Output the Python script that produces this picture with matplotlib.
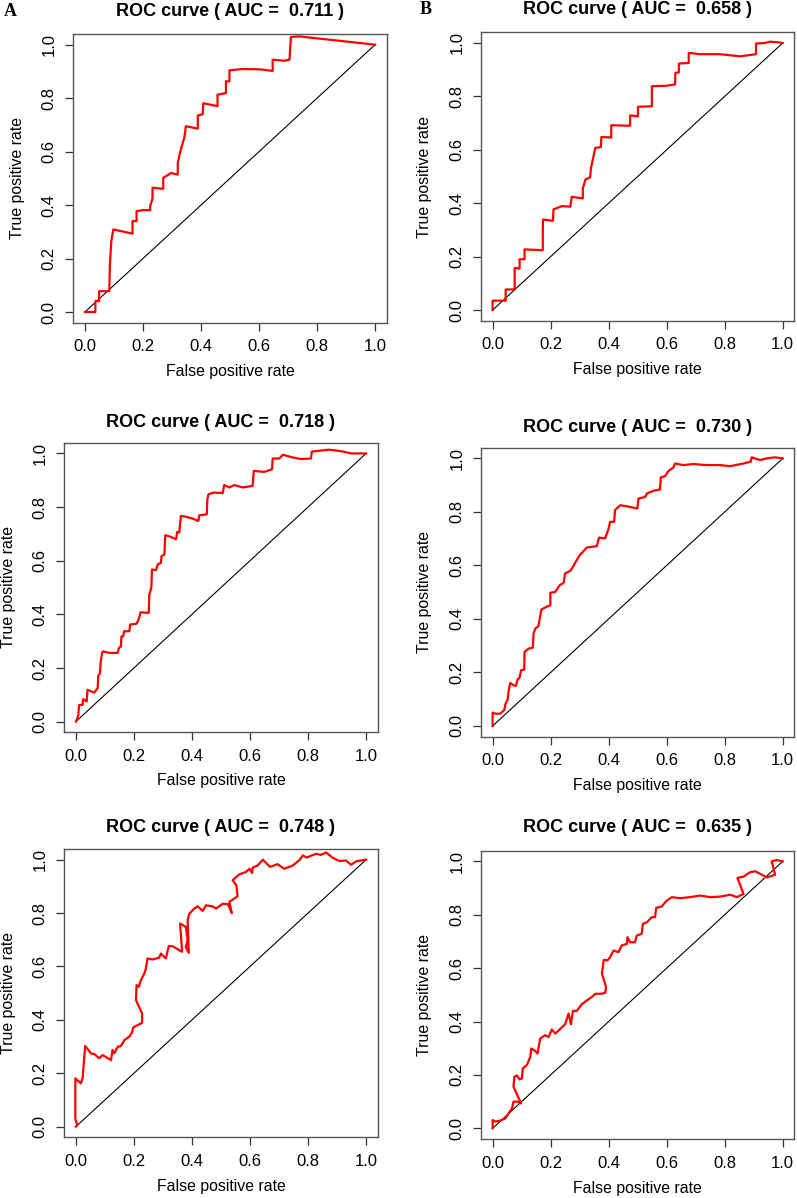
import numpy as np
import matplotlib
matplotlib.use("Agg")
import matplotlib.pyplot as plt

plt.rcParams['font.family'] = ['Liberation Sans', 'DejaVu Sans']

# ---------------- data ----------------
auc_values = ["0.711", "0.658", "0.718", "0.730", "0.748", "0.635"]
panel_letters = ["A", "B"]
tick_values = [0.0, 0.2, 0.4, 0.6, 0.8, 1.0]
tick_labels = ["0.0", "0.2", "0.4", "0.6", "0.8", "1.0"]

roc_a = [(0.0, 0.0), (0.036, 0.0), (0.036, 0.041), (0.049, 0.041), (0.049, 0.078),
         (0.084, 0.078), (0.086, 0.174), (0.091, 0.265), (0.098, 0.309), (0.164, 0.293),
         (0.164, 0.340), (0.178, 0.340), (0.178, 0.377), (0.199, 0.381), (0.225, 0.381),
         (0.225, 0.396), (0.233, 0.425), (0.233, 0.465), (0.270, 0.461), (0.270, 0.502),
         (0.297, 0.520), (0.320, 0.514), (0.320, 0.558), (0.329, 0.601), (0.343, 0.655),
         (0.348, 0.695), (0.389, 0.686), (0.389, 0.735), (0.406, 0.740), (0.408, 0.781),
         (0.457, 0.770), (0.457, 0.813), (0.486, 0.819), (0.486, 0.863), (0.498, 0.863),
         (0.498, 0.904), (0.544, 0.909), (0.601, 0.908), (0.647, 0.902), (0.647, 0.944),
         (0.687, 0.940), (0.705, 0.944), (0.710, 1.029), (0.739, 1.031), (1.0, 1.0)]

roc_b = [(0.0, 0.0), (0.0, 0.035), (0.045, 0.035), (0.045, 0.077), (0.076, 0.077),
         (0.076, 0.158), (0.093, 0.155), (0.093, 0.190), (0.110, 0.190), (0.110, 0.227),
         (0.173, 0.224), (0.173, 0.299), (0.174, 0.339), (0.208, 0.334), (0.210, 0.377),
         (0.239, 0.389), (0.268, 0.387), (0.273, 0.424), (0.311, 0.418), (0.311, 0.455),
         (0.320, 0.489), (0.336, 0.497), (0.339, 0.530), (0.346, 0.567), (0.354, 0.607),
         (0.373, 0.610), (0.375, 0.648), (0.409, 0.646), (0.409, 0.692), (0.474, 0.690),
         (0.474, 0.729), (0.501, 0.725), (0.501, 0.761), (0.549, 0.763), (0.549, 0.838),
         (0.600, 0.840), (0.629, 0.845), (0.630, 0.888), (0.642, 0.890), (0.642, 0.923),
         (0.676, 0.925), (0.676, 0.963), (0.715, 0.958), (0.784, 0.958), (0.853, 0.950),
         (0.908, 0.958), (0.908, 0.998), (0.939, 1.0), (0.956, 1.005), (0.979, 1.003),
         (1.0, 1.0)]

roc_c = [(0.0, 0.0), (0.008, 0.021), (0.011, 0.062), (0.023, 0.062), (0.025, 0.084),
         (0.037, 0.075), (0.040, 0.118), (0.063, 0.108), (0.075, 0.125), (0.077, 0.171),
         (0.083, 0.180), (0.085, 0.218), (0.090, 0.256), (0.094, 0.262), (0.115, 0.256),
         (0.144, 0.256), (0.148, 0.274), (0.155, 0.280), (0.157, 0.318), (0.163, 0.318),
         (0.166, 0.337), (0.184, 0.337), (0.187, 0.362), (0.209, 0.365), (0.216, 0.380),
         (0.223, 0.408), (0.251, 0.405), (0.253, 0.474), (0.260, 0.499), (0.262, 0.567),
         (0.276, 0.565), (0.282, 0.586), (0.293, 0.592), (0.295, 0.617), (0.305, 0.623),
         (0.308, 0.695), (0.324, 0.690), (0.345, 0.680), (0.349, 0.707), (0.356, 0.705),
         (0.362, 0.767), (0.379, 0.764), (0.402, 0.757), (0.422, 0.748), (0.425, 0.769),
         (0.451, 0.773), (0.453, 0.829), (0.457, 0.848), (0.477, 0.854), (0.506, 0.852),
         (0.511, 0.882), (0.529, 0.873), (0.546, 0.882), (0.575, 0.873), (0.609, 0.879),
         (0.613, 0.935), (0.649, 0.931), (0.676, 0.941), (0.678, 0.981), (0.701, 0.981),
         (0.713, 0.995), (0.747, 0.985), (0.776, 0.979), (0.810, 0.981), (0.813, 1.007),
         (0.839, 1.010), (0.874, 1.014), (0.920, 1.007), (0.948, 1.0), (1.0, 1.0)]

roc_d = [(0.0, 0.0), (0.0, 0.050), (0.009, 0.046), (0.026, 0.046), (0.040, 0.059),
         (0.045, 0.084), (0.052, 0.099), (0.055, 0.130), (0.061, 0.161), (0.072, 0.152),
         (0.080, 0.150), (0.086, 0.173), (0.093, 0.181), (0.098, 0.208), (0.109, 0.211),
         (0.110, 0.277), (0.124, 0.289), (0.139, 0.293), (0.141, 0.345), (0.147, 0.364),
         (0.158, 0.373), (0.168, 0.435), (0.185, 0.445), (0.199, 0.451), (0.199, 0.498),
         (0.216, 0.501), (0.231, 0.526), (0.245, 0.535), (0.250, 0.570), (0.268, 0.580),
         (0.277, 0.595), (0.290, 0.620), (0.300, 0.638), (0.325, 0.667), (0.359, 0.672),
         (0.367, 0.704), (0.388, 0.701), (0.400, 0.738), (0.405, 0.763), (0.419, 0.763),
         (0.422, 0.807), (0.440, 0.825), (0.463, 0.821), (0.480, 0.817), (0.499, 0.813),
         (0.503, 0.850), (0.526, 0.856), (0.532, 0.869), (0.555, 0.879), (0.577, 0.884),
         (0.580, 0.929), (0.595, 0.934), (0.606, 0.953), (0.623, 0.966), (0.629, 0.981),
         (0.658, 0.975), (0.692, 0.979), (0.738, 0.975), (0.784, 0.975), (0.819, 0.971),
         (0.865, 0.981), (0.890, 0.988), (0.893, 1.004), (0.922, 0.994), (0.945, 1.0),
         (0.973, 1.004), (1.0, 1.0)]

roc_e = [(0.0, 0.0), (0.005, 0.005), (-0.002, 0.030), (-0.002, 0.181), (0.017, 0.162),
         (0.023, 0.181), (0.032, 0.302), (0.052, 0.274), (0.063, 0.272), (0.080, 0.256),
         (0.092, 0.268), (0.121, 0.249), (0.126, 0.287), (0.132, 0.275), (0.144, 0.299),
         (0.155, 0.302), (0.167, 0.324), (0.184, 0.337), (0.193, 0.352), (0.198, 0.372),
         (0.213, 0.380), (0.228, 0.389), (0.228, 0.424), (0.207, 0.474), (0.209, 0.530),
         (0.217, 0.524), (0.224, 0.549), (0.236, 0.574), (0.241, 0.592), (0.247, 0.630),
         (0.264, 0.626), (0.287, 0.633), (0.293, 0.648), (0.310, 0.630), (0.320, 0.676),
         (0.333, 0.676), (0.356, 0.661), (0.366, 0.655), (0.359, 0.761), (0.379, 0.748),
         (0.385, 0.698), (0.379, 0.673), (0.389, 0.651), (0.385, 0.773), (0.391, 0.798),
         (0.408, 0.817), (0.420, 0.825), (0.437, 0.808), (0.448, 0.829), (0.471, 0.825),
         (0.483, 0.817), (0.506, 0.835), (0.524, 0.833), (0.537, 0.800), (0.529, 0.842),
         (0.557, 0.863), (0.553, 0.904), (0.540, 0.923), (0.563, 0.945), (0.586, 0.954),
         (0.598, 0.966), (0.607, 0.950), (0.609, 0.970), (0.626, 0.978), (0.644, 1.0),
         (0.669, 0.973), (0.695, 0.983), (0.718, 0.966), (0.747, 0.978), (0.770, 0.998),
         (0.782, 1.016), (0.795, 1.008), (0.828, 1.022), (0.845, 1.018), (0.862, 1.027),
         (0.885, 1.007), (0.908, 0.995), (0.931, 0.997), (0.948, 0.981), (0.966, 0.994),
         (0.989, 0.998), (1.0, 1.0)]

roc_f = [(0.0, 0.0), (0.0, 0.031), (0.009, 0.025), (0.026, 0.029), (0.044, 0.037),
         (0.055, 0.056), (0.067, 0.075), (0.072, 0.100), (0.084, 0.100), (0.098, 0.093),
         (0.072, 0.156), (0.075, 0.193), (0.084, 0.198), (0.093, 0.183), (0.101, 0.187),
         (0.104, 0.224), (0.118, 0.237), (0.130, 0.268), (0.133, 0.299), (0.147, 0.290),
         (0.155, 0.280), (0.164, 0.336), (0.181, 0.349), (0.193, 0.342), (0.204, 0.370),
         (0.216, 0.355), (0.231, 0.370), (0.250, 0.390), (0.262, 0.430), (0.270, 0.390),
         (0.277, 0.440), (0.290, 0.440), (0.308, 0.465), (0.325, 0.479), (0.342, 0.492),
         (0.354, 0.504), (0.371, 0.504), (0.388, 0.507), (0.391, 0.529), (0.377, 0.579),
         (0.383, 0.631), (0.396, 0.629), (0.405, 0.641), (0.417, 0.666), (0.434, 0.660),
         (0.445, 0.685), (0.463, 0.691), (0.465, 0.716), (0.474, 0.697), (0.491, 0.697),
         (0.497, 0.722), (0.514, 0.729), (0.518, 0.766), (0.532, 0.772), (0.549, 0.791),
         (0.560, 0.791), (0.564, 0.826), (0.583, 0.831), (0.600, 0.853), (0.618, 0.866),
         (0.646, 0.862), (0.681, 0.866), (0.715, 0.872), (0.750, 0.866), (0.784, 0.868),
         (0.819, 0.875), (0.842, 0.866), (0.865, 0.878), (0.844, 0.938), (0.865, 0.943),
         (0.887, 0.959), (0.905, 0.963), (0.928, 0.950), (0.945, 0.940), (0.974, 0.950),
         (0.962, 1.0), (0.979, 1.005), (1.0, 1.0)]

curves = [roc_a, roc_b, roc_c, roc_d, roc_e, roc_f]

# ---------------- layout (pixels) ----------------
W, H = 797, 1198
fig = plt.figure(figsize=(W / 100, H / 100), dpi=100)
fig.patch.set_facecolor("white")

# (left, top, right, bottom) in pixels
boxes = [(73.3, 34.0, 386.7, 322.7), (481.0, 32.3, 794.3, 320.7),
         (64.3, 442.7, 377.7, 732.3), (481.0, 447.7, 794.3, 736.7),
         (64.3, 849.0, 377.7, 1137.3), (481.0, 850.7, 794.3, 1139.0)]
title_y = [12, 10, 423, 427, 827, 828]
xlabel_off = [49, 49, 48, 49, 49, 49]
ylabel_off = 56

frame_col = "#555555"
for i, (pts, (l, t, r, b)) in enumerate(zip(curves, boxes)):
    ax = fig.add_axes([l / W, 1 - b / H, (r - l) / W, (b - t) / H])
    arr = np.array(pts)
    ax.plot([0, 1], [0, 1], color="black", lw=0.8)
    ax.plot(arr[:, 0], arr[:, 1], color="#ff0000", lw=1.6, solid_joinstyle="round")
    ax.set_xlim(-0.04, 1.04)
    ax.set_ylim(-0.04, 1.04)
    ax.set_xticks(tick_values)
    ax.set_xticklabels(tick_labels)
    ax.set_yticks(tick_values)
    ax.set_yticklabels(tick_labels, rotation=90, va="center")
    ax.tick_params(direction="out", length=6, width=0.9, colors="#333333",
                   labelcolor="black", labelsize=12, pad=6)
    for s in ax.spines.values():
        s.set_color(frame_col)
        s.set_linewidth(1.0)
    hpx = b - t
    wpx = r - l
    ax.set_xlabel("False positive rate", fontsize=11.4, va="center")
    ax.xaxis.set_label_coords(0.5, -xlabel_off[i] / hpx)
    ax.set_ylabel("True positive rate", fontsize=11.4, va="center")
    ax.yaxis.set_label_coords(-ylabel_off / wpx, 0.5)
    fig.text((l + r) / 2 / W, 1 - title_y[i] / H,
             "ROC curve ( AUC =  " + auc_values[i] + " )",
             ha="center", va="center", fontsize=13, fontweight="bold")

fig.text(10 / W, 1 - 11 / H, panel_letters[0], ha="center", va="center",
         fontsize=13, fontweight="bold", family="Liberation Serif")
fig.text(426 / W, 1 - 9 / H, panel_letters[1], ha="center", va="center",
         fontsize=13, fontweight="bold", family="Liberation Serif")

fig.savefig("out.png", dpi=100, facecolor="white")
